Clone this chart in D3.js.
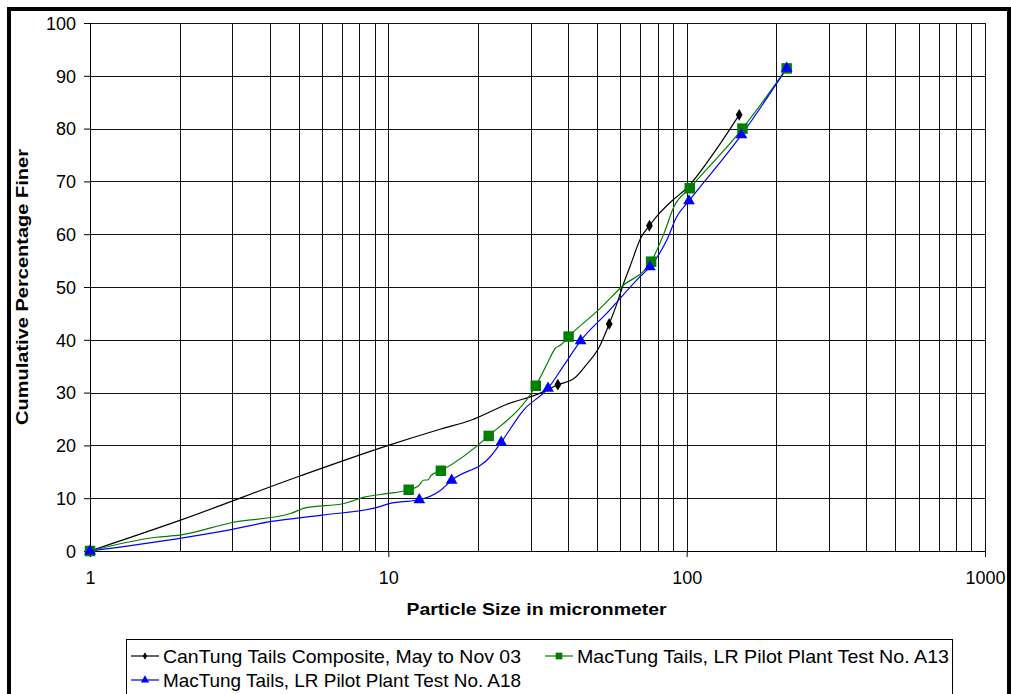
<!DOCTYPE html>
<html>
<head>
<meta charset="utf-8">
<script src="https://cdn.jsdelivr.net/npm/d3@7"></script>
<style>
  html, body { margin: 0; padding: 0; background: #fff; }
  text { font-family: "Liberation Sans", Arial, sans-serif; }
</style>
</head>
<body>
<div id="app"></div>
<script>
const WIDTH = 1011;
const HEIGHT = 694;

// CanTung Tails Composite, May to Nov 03
const canTungX = [1, 2, 5, 10, 15, 19, 25, 32, 37, 42, 46, 51, 55, 58.5, 61.5, 64.5, 70.5, 75, 80, 90, 100, 123, 150];
const canTungY = [0, 5.8, 14.1, 20, 23.1, 24.8, 27.8, 29.8, 31.5, 32.7, 35.2, 38.7, 43, 47, 50.7, 53.8, 59.5, 61.6, 63.6, 66.5, 68.7, 75.3, 82.6];
const canTungMarkX = [1, 37, 55, 75, 150];
const canTungMarkY = [0, 31.5, 43, 61.6, 82.6];

// MacTung Tails, LR Pilot Plant Test No. A13
const a13X = [1, 1.67, 2, 3, 4.7, 5.3, 7.1, 8.3, 10, 11.7, 12.6, 13.1, 13.6, 13.9, 15, 21.7, 31.2, 34.1, 36.3, 37.8, 40.2, 51.4, 60.7, 76, 84, 90.6, 102.4, 153.8, 216.4];
const a13Y = [0, 2.6, 3.0, 5.4, 7.1, 8.2, 9.0, 10.2, 10.9, 11.6, 12.3, 13.4, 13.5, 14.3, 15.2, 21.8, 31.3, 35.5, 38.4, 39.0, 40.6, 46, 50.1, 54.8, 60.2, 65.2, 68.7, 80.0, 91.4];
const a13MarkX = [1, 11.7, 15, 21.7, 31.2, 40.2, 76, 102.4, 153.8, 216.4];
const a13MarkY = [0, 11.6, 15.2, 21.8, 31.3, 40.6, 54.8, 68.7, 80.0, 91.4];

// MacTung Tails, LR Pilot Plant Test No. A18
const a18X = [1, 2, 3, 4.06, 6, 9.1, 10.3, 11, 12.7, 14.9, 16.3, 22, 23.9, 28.4, 34.3, 38.8, 44.1, 54.5, 69.9, 75.3, 85.8, 92.6, 101.8, 152.6, 216.4];
const a18Y = [0, 2.4, 4.1, 5.6, 6.8, 8.2, 9.1, 9.3, 9.7, 11.4, 13.4, 17.9, 20.6, 26.7, 30.8, 35.2, 39.8, 45.3, 52, 53.8, 58.9, 63.3, 66.3, 78.8, 91.4];
const a18MarkX = [1, 12.7, 16.3, 23.9, 34.3, 44.1, 75.3, 101.8, 152.6, 216.4];
const a18MarkY = [0, 9.7, 13.4, 20.6, 30.8, 39.8, 53.8, 66.3, 78.8, 91.4];

const xTicks = [1, 10, 100, 1000];
const yTicks = [0, 10, 20, 30, 40, 50, 60, 70, 80, 90, 100];
const xTitle = "Particle Size in micronmeter";
const yTitle = "Cumulative Percentage Finer";

const series = [
    { name: "CanTung Tails Composite, May to Nov 03", color: "#000000", symbol: d3.symbolDiamond, size: 40, legendSize: 16,
      x: canTungX, y: canTungY, mx: canTungMarkX, my: canTungMarkY },
    { name: "MacTung Tails, LR Pilot Plant Test No. A13", color: "#008000", symbol: d3.symbolSquare, size: 110, legendSize: 45,
      x: a13X, y: a13Y, mx: a13MarkX, my: a13MarkY },
    { name: "MacTung Tails, LR Pilot Plant Test No. A18", color: "#0000ff", symbol: d3.symbolTriangle, size: 60, legendSize: 30,
      x: a18X, y: a18Y, mx: a18MarkX, my: a18MarkY }
];

const plot = { left: 90, right: 985, top: 23, bottom: 551 };

const x = d3.scaleLog().domain([1, 1000]).range([plot.left, plot.right]);
const y = d3.scaleLinear().domain([0, 100]).range([plot.bottom, plot.top]);

const svg = d3.select("#app").append("svg")
    .attr("width", WIDTH)
    .attr("height", HEIGHT);

svg.append("rect").attr("width", WIDTH).attr("height", HEIGHT).attr("fill", "#fff");

// grid lines: every 1..9 x 10^k vertically, every 10% horizontally
const gridX = [];
for (let k = 0; k < 3; k++) {
    for (let m = 1; m < 10; m++) gridX.push(m * Math.pow(10, k));
}
gridX.push(1000);

const grid = svg.append("g").attr("shape-rendering", "crispEdges");
grid.selectAll("line.gx")
    .data(gridX)
    .join("line")
    .attr("x1", d => Math.round(x(d)) + 0.5)
    .attr("x2", d => Math.round(x(d)) + 0.5)
    .attr("y1", plot.top)
    .attr("y2", plot.bottom)
    .attr("stroke", "#111");
grid.selectAll("line.gy")
    .data(yTicks)
    .join("line")
    .attr("x1", plot.left)
    .attr("x2", plot.right)
    .attr("y1", d => Math.round(y(d)) + 0.5)
    .attr("y2", d => Math.round(y(d)) + 0.5)
    .attr("stroke", "#111");

// axes
const xAxis = svg.append("g")
    .attr("transform", `translate(0,${Math.round(plot.bottom)})`)
    .call(d3.axisBottom(x).tickValues(xTicks).tickFormat(d3.format("d")).tickSize(6).tickPadding(14));
const yAxis = svg.append("g")
    .attr("transform", `translate(${plot.left},0)`)
    .call(d3.axisLeft(y).tickValues(yTicks).tickSize(6).tickPadding(8));

[xAxis, yAxis].forEach(a => {
    a.select(".domain").attr("stroke", "#000");
    a.selectAll(".tick line").attr("stroke", "#000");
    a.selectAll("text")
        .attr("fill", "#000")
        .style("font-size", "18px")
        .style("font-family", "'Liberation Sans', Arial, sans-serif");
});
yAxis.selectAll("text").attr("dy", "0.35em");

// axis titles
svg.append("text")
    .attr("x", (plot.left + plot.right) / 2 - 1)
    .attr("y", 615)
    .attr("text-anchor", "middle")
    .style("font-size", "17px")
    .style("font-weight", "bold")
    .attr("textLength", 260)
    .attr("lengthAdjust", "spacingAndGlyphs")
    .text(xTitle);

svg.append("text")
    .attr("transform", `translate(28,${(plot.top + plot.bottom) / 2}) rotate(-90)`)
    .attr("text-anchor", "middle")
    .style("font-size", "17px")
    .style("font-weight", "bold")
    .attr("textLength", 276)
    .attr("lengthAdjust", "spacingAndGlyphs")
    .text(yTitle);

// curves and markers
const lineGen = d3.line()
    .x(d => x(d[0]))
    .y(d => y(d[1]))
    .curve(d3.curveMonotoneX);

const chart = svg.append("g").classed("chart", true);
series.forEach(s => {
    const pts = s.x.map((v, i) => [v, s.y[i]]);
    chart.append("path")
        .datum(pts)
        .attr("d", lineGen)
        .attr("fill", "none")
        .attr("stroke", s.color)
        .attr("stroke-width", 1.2);
});
series.forEach(s => {
    const marks = s.mx.map((v, i) => [v, s.my[i]]);
    chart.selectAll(null)
        .data(marks)
        .join("path")
        .attr("transform", d => `translate(${x(d[0])},${y(d[1])})`)
        .attr("d", d3.symbol(s.symbol, s.size))
        .attr("fill", s.color);
});

// legend
const legend = svg.append("g").attr("transform", "translate(126,639)");
legend.append("rect")
    .attr("x", 0.5).attr("y", 0.5)
    .attr("width", 826).attr("height", 70)
    .attr("fill", "#fff")
    .attr("stroke", "#000");

const legendPos = [[5, 17], [419, 17], [5, 41]];
series.forEach((s, i) => {
    const g = legend.append("g").attr("transform", `translate(${legendPos[i][0]},${legendPos[i][1]})`);
    g.append("line")
        .attr("x1", 0).attr("x2", 28)
        .attr("stroke", s.color)
        .attr("stroke-width", 1.2);
    g.append("path")
        .attr("transform", "translate(14,0)")
        .attr("d", d3.symbol(s.symbol, s.legendSize))
        .attr("fill", s.color);
    g.append("text")
        .attr("x", 32)
        .attr("y", 7)
        .style("font-size", "19px")
        .attr("textLength", i === 1 ? 372 : 358)
        .attr("lengthAdjust", "spacingAndGlyphs")
        .text(s.name);
});

// outer frame
svg.append("rect")
    .attr("x", 9).attr("y", 9)
    .attr("width", 1000).attr("height", 700)
    .attr("fill", "none")
    .attr("stroke", "#000")
    .attr("stroke-width", 4);
</script>
</body>
</html>
